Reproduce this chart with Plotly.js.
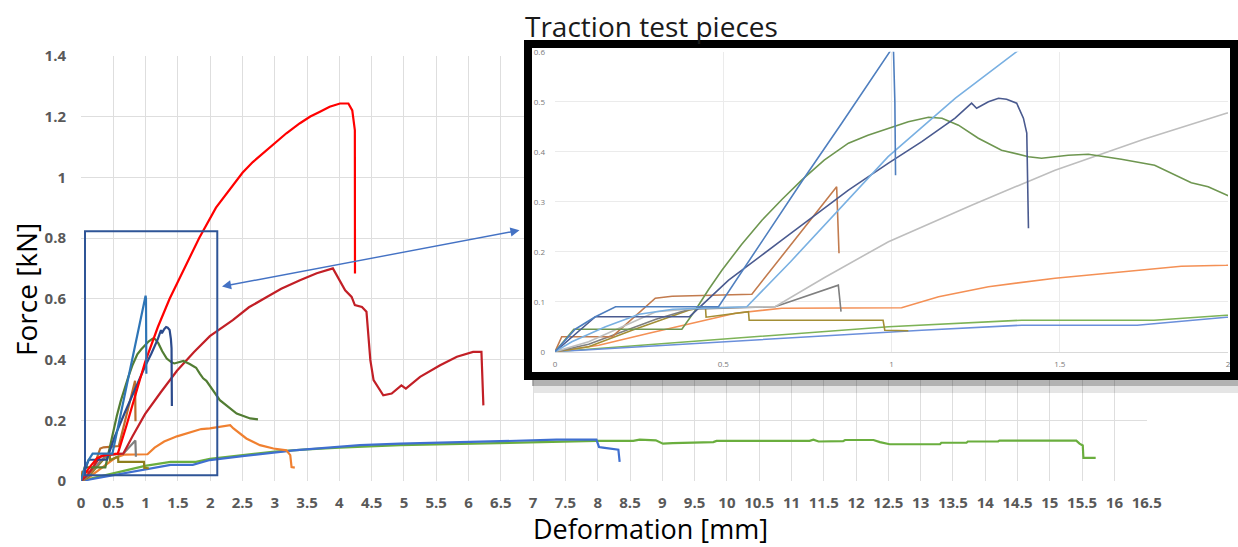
<!DOCTYPE html>
<html>
<head>
<meta charset="utf-8">
<script src="https://cdn.plot.ly/plotly-3.0.1.min.js"></script>
<style>
html,body{margin:0;padding:0;background:#fff;}
#chart{width:1238px;height:547px;}
</style>
</head>
<body>
<div id="chart"></div>
<script>
// ---------- data (deformation in mm, force in kN) ----------
const redX = [0, 0.05, 0.15, 0.25, 0.35, 0.57, 0.7, 0.83, 0.99, 1.19, 1.372, 1.6, 1.83, 2.09, 2.35, 2.5, 2.66, 2.97, 3.18, 3.39, 3.55, 3.7, 3.85, 4.01, 4.14, 4.2, 4.24, 4.242];
const redY = [0, 0.02, 0.05, 0.075, 0.085, 0.09, 0.18, 0.275, 0.39, 0.507, 0.6, 0.7, 0.8, 0.9, 0.975, 1.015, 1.05, 1.105, 1.145, 1.178, 1.2, 1.216, 1.232, 1.243, 1.243, 1.22, 1.155, 0.683];

const darkRedX = [0, 0.1, 0.2, 0.3, 0.45, 0.654, 0.8, 0.991, 1.238, 1.486, 1.75, 1.995, 2.35, 2.6, 2.87, 3.1, 3.39, 3.65, 3.9, 4.01, 4.09, 4.19, 4.24, 4.35, 4.42, 4.48, 4.53, 4.68, 4.81, 4.96, 5.03, 5.25, 5.56, 5.82, 6.07, 6.2, 6.23];
const darkRedY = [0, 0.02, 0.05, 0.08, 0.088, 0.09, 0.148, 0.22, 0.293, 0.363, 0.425, 0.477, 0.53, 0.572, 0.605, 0.633, 0.661, 0.684, 0.70, 0.661, 0.628, 0.606, 0.579, 0.573, 0.557, 0.398, 0.332, 0.282, 0.288, 0.315, 0.304, 0.343, 0.381, 0.409, 0.425, 0.425, 0.249];

const blueSteepX = [0, 0.06, 0.12, 0.18, 0.486, 0.615, 0.733, 0.852, 0.995, 1.0, 1.006, 1.01, 1.012];
const blueSteepY = [0, 0.045, 0.07, 0.09, 0.09, 0.222, 0.34, 0.457, 0.6, 0.61, 0.6, 0.5, 0.353];

const navyX = [0, 0.05, 0.12, 0.40, 0.516, 0.674, 0.872, 0.991, 1.09, 1.189, 1.238, 1.253, 1.288, 1.318, 1.342, 1.372, 1.392, 1.402, 1.407];
const navyY = [0, 0.03, 0.07, 0.07, 0.143, 0.223, 0.323, 0.377, 0.42, 0.467, 0.497, 0.487, 0.5, 0.507, 0.505, 0.497, 0.467, 0.437, 0.247];

const darkGreenX = [0, 0.056, 0.377, 0.417, 0.456, 0.496, 0.555, 0.615, 0.675, 0.733, 0.8, 0.872, 0.93, 0.991, 1.05, 1.11, 1.15, 1.199, 1.258, 1.327, 1.407, 1.446, 1.525, 1.585, 1.683, 1.782, 1.842, 1.891, 1.941, 1.995, 2.15, 2.41, 2.62, 2.74];
const darkGreenY = [0, 0.045, 0.045, 0.083, 0.124, 0.163, 0.215, 0.263, 0.305, 0.343, 0.383, 0.417, 0.433, 0.447, 0.46, 0.469, 0.467, 0.453, 0.427, 0.403, 0.39, 0.387, 0.393, 0.395, 0.385, 0.373, 0.353, 0.338, 0.33, 0.313, 0.266, 0.222, 0.206, 0.203];

const brownX = [0, 0.02, 0.17, 0.298, 0.348, 0.585, 0.837, 0.844];
const brownY = [0, 0.03, 0.03, 0.107, 0.111, 0.115, 0.33, 0.197];

const darkGrayX = [0, 0.1, 0.2, 0.3, 0.4, 0.654, 0.842, 0.85];
const darkGrayY = [0, 0.015, 0.04, 0.065, 0.085, 0.09, 0.133, 0.08];

const oliveX = [0, 0.1, 0.229, 0.397, 0.447, 0.449, 0.575, 0.577, 0.975, 0.98, 1.05];
const oliveY = [0, 0.01, 0.043, 0.083, 0.09, 0.069, 0.08, 0.063, 0.063, 0.043, 0.042];

const orangeX = [0, 0.13, 0.279, 0.427, 0.536, 0.674, 1.03, 1.14, 1.288, 1.486, 1.683, 1.861, 1.995, 2.1, 2.31, 2.36, 2.56, 2.77, 2.98, 3.18, 3.24, 3.26, 3.31];
const orangeY = [0, 0.013, 0.037, 0.06, 0.077, 0.087, 0.088, 0.11, 0.13, 0.147, 0.16, 0.171, 0.173, 0.177, 0.184, 0.173, 0.14, 0.118, 0.107, 0.101, 0.085, 0.046, 0.044];

const greenLongX = [0, 0.5, 0.991, 1.387, 1.78, 1.995, 2.5, 3.0, 3.5, 4.0, 4.94, 6.49, 7.5, 7.98, 8.55, 8.65, 8.9, 9.01, 9.16, 9.79, 9.84, 11.28, 11.34, 11.42, 11.8, 11.83, 12.27, 12.37, 12.52, 13.3, 13.32, 13.71, 13.73, 14.2, 14.22, 15.41, 15.46, 15.51, 15.52, 15.71];
const greenLongY = [0, 0.025, 0.05, 0.063, 0.063, 0.073, 0.085, 0.097, 0.104, 0.11, 0.118, 0.126, 0.13, 0.132, 0.132, 0.136, 0.134, 0.123, 0.125, 0.128, 0.132, 0.132, 0.136, 0.13, 0.131, 0.135, 0.135, 0.128, 0.121, 0.121, 0.126, 0.126, 0.13, 0.13, 0.133, 0.133, 0.123, 0.117, 0.076, 0.076];

const blueLongX = [0, 0.5, 1.09, 1.387, 1.73, 1.995, 2.5, 3.29, 4.32, 4.94, 6.49, 7.36, 7.98, 8.0, 8.02, 8.08, 8.32, 8.34];
const blueLongY = [0, 0.02, 0.043, 0.053, 0.053, 0.069, 0.082, 0.101, 0.118, 0.123, 0.131, 0.136, 0.136, 0.125, 0.112, 0.11, 0.103, 0.063];

// ---------- styling (main colour, inset colour) ----------
const series = [
  {x: greenLongX, y: greenLongY, main: '#6AAE3E', inset: '#7DB357'},
  {x: blueLongX,  y: blueLongY,  main: '#3F6FD0', inset: '#6A8FDB'},
  {x: orangeX,    y: orangeY,    main: '#F08030', inset: '#F49055'},
  {x: oliveX,     y: oliveY,     main: '#8E7F1D', inset: '#A38E35'},
  {x: darkGrayX,  y: darkGrayY,  main: '#7F7F7F', inset: '#7F7F7F'},
  {x: brownX,     y: brownY,     main: '#BA6E2E', inset: '#C27B4E'},
  {x: darkRedX,   y: darkRedY,   main: '#C21F26', inset: '#BEBEBE'},
  {x: darkGreenX, y: darkGreenY, main: '#527D33', inset: '#6E9650'},
  {x: navyX,      y: navyY,      main: '#2B4A8C', inset: '#4A5A8F'},
  {x: redX,       y: redY,       main: '#FF0000', inset: '#79B0E2'},
  {x: blueSteepX, y: blueSteepY, main: '#2E75B6', inset: '#4F7FBF'}
];

const traces = [];
series.forEach(s => traces.push({
  type: 'scatter', mode: 'lines', x: s.x, y: s.y, xaxis: 'x', yaxis: 'y',
  line: {color: s.main, width: 2.2}, hoverinfo: 'skip', showlegend: false
}));
// empty holder for the framed panel background
traces.push({type: 'scatter', mode: 'lines', x: [null], y: [null], xaxis: 'x2', yaxis: 'y2',
  hoverinfo: 'skip', showlegend: false});
series.forEach(s => traces.push({
  type: 'scatter', mode: 'lines', x: s.x, y: s.y, xaxis: 'x3', yaxis: 'y3',
  line: {color: s.inset, width: 1.6}, hoverinfo: 'skip', showlegend: false
}));

// ---------- geometry helpers (pixel -> paper) ----------
const ML = 81, MT = 38, MB = 66, W = 1238, H = 547;
const PW = W - ML, PH = H - MT - MB;
const px = p => (p - ML) / PW;
const py = p => (H - MB - p) / PH;

const tickFontMain = {family: 'Open Sans, sans-serif', size: 15, color: '#595959', weight: 'bold'};
const tickFontInset = {family: 'Open Sans, sans-serif', size: 8, color: '#7A7A7A'};

const layout = {
  width: W, height: H,
  margin: {l: ML, r: 0, t: MT, b: MB, pad: 0},
  paper_bgcolor: '#FFFFFF', plot_bgcolor: '#FFFFFF',
  showlegend: false, hovermode: false,
  font: {family: 'Open Sans, sans-serif', color: '#000'},
  xaxis: {
    domain: [0, px(1146.7)], anchor: 'y', range: [0, 16.5], tick0: 0, dtick: 0.5,
    showgrid: true, gridcolor: '#DEDEDE', gridwidth: 1, zeroline: false, showline: false,
    ticks: '', tickfont: tickFontMain, ticklabelstandoff: 11, fixedrange: true
  },
  yaxis: {
    domain: [0, py(55.8)], anchor: 'x', range: [0, 1.4], tick0: 0, dtick: 0.2,
    showgrid: true, gridcolor: '#DEDEDE', gridwidth: 1, zeroline: false, showline: false,
    ticks: '', tickfont: tickFontMain, ticklabelstandoff: 14, fixedrange: true
  },
  xaxis2: {domain: [px(524), 1], anchor: 'y2', range: [0, 1], visible: false, fixedrange: true},
  yaxis2: {domain: [py(380), py(40)], anchor: 'x2', range: [0, 1], visible: false, fixedrange: true},
  xaxis3: {
    domain: [px(555), px(1228)], anchor: 'y3', range: [0, 2], tick0: 0, dtick: 0.5,
    showgrid: true, gridcolor: '#EBEBEB', zeroline: false, showline: true, linecolor: '#D9D9D9',
    ticks: '', tickfont: tickFontInset, ticklabelstandoff: 5, fixedrange: true
  },
  yaxis3: {
    domain: [py(351.7), py(51.7)], anchor: 'x3', range: [0, 0.6], tick0: 0, dtick: 0.1,
    showgrid: true, gridcolor: '#EBEBEB', zeroline: false, showline: false,
    ticks: '', tickfont: tickFontInset, ticklabelstandoff: 9, fixedrange: true
  },
  shapes: [
    // zoom region box on the main chart
    {type: 'rect', xref: 'x', yref: 'y', x0: 0.062, x1: 2.11, y0: 0.019, y1: 0.822,
     line: {color: '#2F5597', width: 2}, fillcolor: 'rgba(0,0,0,0)', layer: 'above'},
    // shadow of the framed panel
    {type: 'rect', xref: 'paper', yref: 'paper', x0: px(532), x1: 1, y0: py(386), y1: py(379),
     line: {width: 0}, fillcolor: 'rgba(0,0,0,0.30)', layer: 'above'},
    {type: 'rect', xref: 'paper', yref: 'paper', x0: px(534), x1: 1, y0: py(393), y1: py(386),
     line: {width: 0}, fillcolor: 'rgba(0,0,0,0.10)', layer: 'above'},
    // frame of the panel
    {type: 'rect', xref: 'paper', yref: 'paper', x0: px(528), x1: px(1234), y0: py(376), y1: py(44),
     line: {color: '#000000', width: 8}, fillcolor: 'rgba(0,0,0,0)', layer: 'above'}
  ],
  annotations: [
    {text: 'Traction test pieces', xref: 'paper', yref: 'paper', x: px(523), y: py(25.5),
     xanchor: 'left', yanchor: 'middle', showarrow: false,
     font: {family: 'Open Sans, sans-serif', size: 28, color: '#1A1A1A'}},
    {text: 'Force [kN]', xref: 'paper', yref: 'paper', x: px(26), y: py(290), textangle: -90,
     xanchor: 'center', yanchor: 'middle', showarrow: false,
     font: {family: 'Open Sans, sans-serif', size: 28, color: '#000'}},
    {text: 'Deformation [mm]', xref: 'paper', yref: 'paper', x: px(650), y: py(528),
     xanchor: 'center', yanchor: 'middle', showarrow: false,
     font: {family: 'Open Sans, sans-serif', size: 27, color: '#000'}},
    {text: '', xref: 'paper', yref: 'paper', x: px(222), y: py(286.5),
     ax: 299, ay: -56.5, axref: 'pixel', ayref: 'pixel',
     showarrow: true, arrowside: 'end+start', arrowhead: 2, startarrowhead: 2,
     arrowsize: 1.3, startarrowsize: 1.3, arrowwidth: 1.4, arrowcolor: '#4472C4', standoff: 0, startstandoff: 0}
  ]
};

Plotly.newPlot('chart', traces, layout, {staticPlot: true, displayModeBar: false});
</script>
</body>
</html>
